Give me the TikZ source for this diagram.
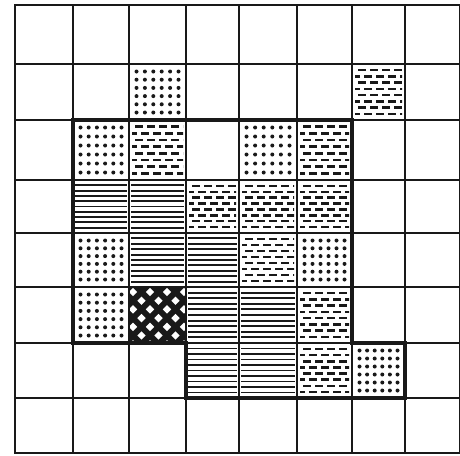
\documentclass[tikz,border=0pt]{standalone}
\begin{document}
\newcommand\cellbox[2]{%
 \pgfmathsetmacro\xa{{15,73,129,186,239,297,352,405,460}[#1]}%
 \pgfmathsetmacro\xb{{15,73,129,186,239,297,352,405,460}[#1+1]}%
 \pgfmathsetmacro\ya{{5,64,120,180,233,287,343,398,453}[#2]}%
 \pgfmathsetmacro\yb{{5,64,120,180,233,287,343,398,453}[#2+1]}%
}
\newcommand\dotcell[2]{\cellbox{#1}{#2}%
 \foreach \i in {0,...,5}{\foreach \j in {0,...,5}{%
  \fill[patink] ({\xa+7.5+\i*(\xb-\xa-15)/5},{\ya+7.5+\j*(\yb-\ya-15)/5}) circle (2pt);}}}
\newcommand\linecell[2]{\cellbox{#1}{#2}%
 \foreach \j in {1,...,9}{%
  \draw[hline] (\xa+2,{\ya+\j*(\yb-\ya)/10}) -- (\xb-2,{\ya+\j*(\yb-\ya)/10});}}
\newcommand\dashcell[2]{\cellbox{#1}{#2}%
 \begin{scope}
 \clip (\xa+3,\ya+3) rectangle (\xb-3,\yb-3);
 \foreach \j in {1,...,8}{%
  \pgfmathsetmacro\ph{mod(\j,2)*6}%
  \draw[dline, dash phase=\ph pt] (\xa,{\ya+\j*(\yb-\ya)/9}) -- (\xb,{\ya+\j*(\yb-\ya)/9});}
 \end{scope}}
\newcommand\crosscell[2]{\cellbox{#1}{#2}%
 \begin{scope}
 \clip (\xa,\ya) rectangle (\xb,\yb);
 \fill[patink] (\xa,\ya) rectangle (\xb,\yb);
 \foreach \j in {0,...,6}{%
  \pgfmathsetmacro\off{mod(\j,2)*8.5}%
  \foreach \i in {0,...,4}{%
   \pgfmathsetmacro\cx{\xa+4+\off+\i*17}%
   \pgfmathsetmacro\cy{\ya+5+\j*8.7}%
   \fill[white] (\cx,\cy-4.2) -- (\cx+4.2,\cy) -- (\cx,\cy+4.2) -- (\cx-4.2,\cy) -- cycle;}}
 \end{scope}}
\begin{tikzpicture}[x=1pt,y=-1pt,
  patink/.style={black!90},
  hline/.style={black!90,line width=1.9pt},
  dline/.style={black!90,line width=2.4pt,dash pattern=on 8pt off 4pt},
  gridline/.style={black!90,line width=2.6pt,line cap=rect},
  outline/.style={black!90,line width=3.1pt,line join=miter}]
\useasboundingbox (0,0) rectangle (460,455);
% patterns
\dotcell{2}{1}
\dashcell{6}{1}
\dotcell{1}{2}
\dashcell{2}{2}
\dotcell{4}{2}
\dashcell{5}{2}
\linecell{1}{3}
\linecell{2}{3}
\dashcell{3}{3}
\dashcell{4}{3}
\dashcell{5}{3}
\dotcell{1}{4}
\linecell{2}{4}
\linecell{3}{4}
\dashcell{4}{4}
\dotcell{5}{4}
\dotcell{1}{5}
\crosscell{2}{5}
\linecell{3}{5}
\linecell{4}{5}
\dashcell{5}{5}
\linecell{3}{6}
\linecell{4}{6}
\dashcell{5}{6}
\dotcell{6}{6}
% grid
\foreach \x in {15,73,129,186,239,297,352,405,460}{\draw[gridline] (\x,5) -- (\x,453);}
\foreach \y in {5,64,120,180,233,287,343,398,453}{\draw[gridline] (15,\y) -- (460,\y);}
% outline of the shaded block
\draw[outline] (73,120) -- (352,120) -- (352,343) -- (405,343) -- (405,398) -- (186,398) -- (186,343) -- (73,343) -- cycle;
\end{tikzpicture}
\end{document}
